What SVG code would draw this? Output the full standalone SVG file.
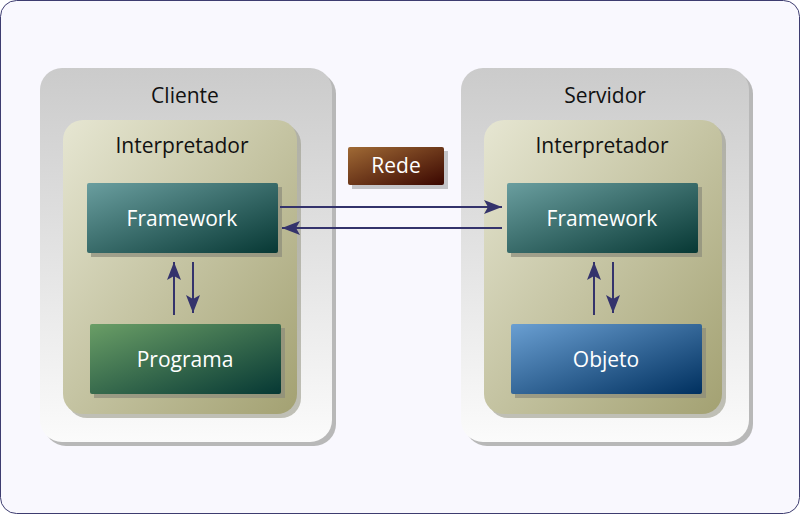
<svg xmlns="http://www.w3.org/2000/svg" width="800" height="514" viewBox="0 0 800 514">
<defs>
<linearGradient id="gOuter" x1="0" y1="0" x2="0" y2="1">
<stop offset="0" stop-color="#cbcbcb"/><stop offset="1" stop-color="#fbfbfb"/>
</linearGradient>
<linearGradient id="gInner" x1="0" y1="0" x2="1" y2="1">
<stop offset="0" stop-color="#e6e6d2"/><stop offset="1" stop-color="#a3a172"/>
</linearGradient>
<linearGradient id="gTeal" x1="0" y1="0" x2="1" y2="1">
<stop offset="0" stop-color="#6a9e9f"/><stop offset="1" stop-color="#073834"/>
</linearGradient>
<linearGradient id="gGreen" x1="0" y1="0" x2="1" y2="1">
<stop offset="0" stop-color="#6a9e66"/><stop offset="1" stop-color="#063834"/>
</linearGradient>
<linearGradient id="gBlue" x1="0" y1="0" x2="1" y2="1">
<stop offset="0" stop-color="#6a9fd2"/><stop offset="1" stop-color="#00305f"/>
</linearGradient>
<linearGradient id="gBrown" x1="0" y1="0" x2="1" y2="1">
<stop offset="0" stop-color="#a06a35"/><stop offset="1" stop-color="#3a0600"/>
</linearGradient>
<marker id="ah" viewBox="0 0 18 14" refX="18" refY="7" markerWidth="18" markerHeight="14" markerUnits="userSpaceOnUse" orient="auto">
<path d="M0,0 L18,7 L0,14 L4,7 Z" fill="#34336c"/>
</marker>
</defs>
<style>
.lbl{font-family:"Open Sans","Noto Sans","DejaVu Sans",sans-serif;font-size:21px;text-anchor:middle}
.dark{fill:#111111}
.light{fill:#ffffff}
.sh{fill:#b8b8b8}
.shi{fill:#9a9a88;opacity:0.6}
.shn{fill:#8c8c7a;opacity:0.7}
.con{stroke:#34336c;stroke-width:2;fill:none;marker-end:url(#ah)}
</style>
<rect x="0.5" y="0.5" width="799" height="513" rx="16" fill="#f9f8fe" stroke="#3e3d70" stroke-width="1"/>

<g id="cliente">
<rect x="44" y="72" width="292" height="374" rx="22" class="sh"/>
<rect x="40" y="68" width="292" height="374" rx="22" fill="url(#gOuter)"/>
<text x="185" y="103" class="lbl dark">Cliente</text>
</g>
<g id="interpretador-cliente">
<rect x="67" y="124" width="234" height="294" rx="20" class="shi"/>
<rect x="63" y="120" width="234" height="294" rx="20" fill="url(#gInner)"/>
<text x="182" y="153" class="lbl dark">Interpretador</text>
</g>
<g id="framework-cliente">
<rect x="91" y="187" width="191" height="70" class="shn"/>
<rect x="87" y="183" width="191" height="70" rx="2" fill="url(#gTeal)"/>
<text x="182" y="226" class="lbl light">Framework</text>
</g>
<g id="programa">
<rect x="94" y="328" width="191" height="70" class="shn"/>
<rect x="90" y="324" width="191" height="70" rx="2" fill="url(#gGreen)"/>
<text x="185" y="367" class="lbl light">Programa</text>
</g>

<g id="servidor">
<rect x="465" y="72" width="288" height="374" rx="22" class="sh"/>
<rect x="461" y="68" width="288" height="374" rx="22" fill="url(#gOuter)"/>
<text x="605" y="103" class="lbl dark">Servidor</text>
</g>
<g id="interpretador-servidor">
<rect x="488" y="124" width="238" height="294" rx="20" class="shi"/>
<rect x="484" y="120" width="238" height="294" rx="20" fill="url(#gInner)"/>
<text x="602" y="153" class="lbl dark">Interpretador</text>
</g>
<g id="framework-servidor">
<rect x="511" y="187" width="191" height="70" class="shn"/>
<rect x="507" y="183" width="191" height="70" rx="2" fill="url(#gTeal)"/>
<text x="602" y="226" class="lbl light">Framework</text>
</g>
<g id="objeto">
<rect x="515" y="328" width="191" height="70" class="shn"/>
<rect x="511" y="324" width="191" height="70" rx="2" fill="url(#gBlue)"/>
<text x="606" y="367" class="lbl light">Objeto</text>
</g>

<g id="rede">
<rect x="352" y="151" width="96" height="38" fill="#c4c4c8"/>
<rect x="348" y="147" width="96" height="38" rx="2" fill="url(#gBrown)"/>
<text x="396" y="173" class="lbl light">Rede</text>
</g>

<g id="connectors">
<line x1="280" y1="207" x2="502" y2="207" class="con"/>
<line x1="502" y1="228" x2="282" y2="228" class="con"/>
<line x1="174" y1="315" x2="174" y2="262" class="con"/>
<line x1="193" y1="262" x2="193" y2="313" class="con"/>
<line x1="594" y1="315" x2="594" y2="262" class="con"/>
<line x1="613" y1="262" x2="613" y2="313" class="con"/>
</g>
</svg>
